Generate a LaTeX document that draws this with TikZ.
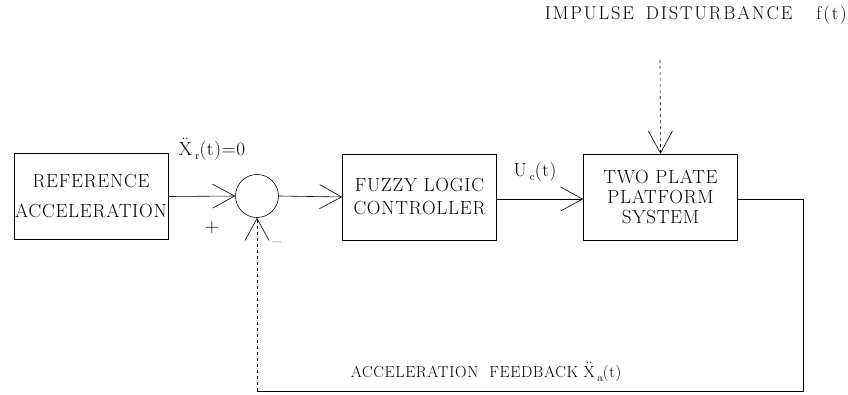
\documentclass[tikz,border=0pt]{standalone}
\usepackage{fontspec}
\setmainfont{Latin Modern Roman}[LetterSpace=4]
\usetikzlibrary{arrows.meta}
\newcommand{\ddX}{$\ddot{\mathrm{X}}$}
\newcommand{\lowsub}[1]{\,\raisebox{-4pt}{\fontsize{11}{12}\selectfont #1}}
\begin{document}
\begin{tikzpicture}[x=1pt,y=-1pt,
  blk/.style={draw,line width=0.6pt,minimum width=154pt,minimum height=86pt,align=center,inner sep=0pt,font=\fontsize{19}{#1}\selectfont},
  blk/.default=24,
  lbl/.style={inner sep=0pt,font=\fontsize{#1}{21}\selectfont},
  lbl/.default=19,
  sig/.style={line width=0.6pt,-{Straight Barb[length=22pt,width=24pt,line width=0.6pt]}},
  fb/.style={line width=0.6pt}]
\useasboundingbox (0,0) rectangle (848,394);
\node[blk=30] (ref) at (91,196.5) {REFERENCE\\ACCELERATION};
\node[draw,circle,line width=0.6pt,minimum size=43pt,inner sep=0pt] (sum) at (257,196) {};
\node[blk=23] (flc) at (419.5,197) {FUZZY LOGIC\\CONTROLLER};
\node[blk=20] (plant) at (660.5,197) {TWO PLATE\\PLATFORM\\SYSTEM};
\coordinate (dist) at (660,60);
\coordinate (c1) at (803,199);
\coordinate (c2) at (803,391);
\coordinate (c3) at (257,391);
\draw[sig] (ref.east) -- (sum.west);
\draw[sig] (sum.east) -- (flc.west);
\draw[sig] (flc.east |- 0,199) -- (plant.west |- 0,199);
\draw[sig,dashed] (dist) -- (plant.north);
\draw[fb] (plant.east |- c1) -- (c1) -- (c2) -- (c3);
\draw[sig,dashed] (c3) -- (sum.south);
\node[lbl] (xr) at (212,149) {\ddX\lowsub{r}(t)=0};
\node[lbl] (plus) at (212,228) {+};
\node[lbl] (minus) at (277,245) {--};
\node[lbl] (uc) at (535,172) {U\lowsub{c}(t)};
\node[lbl=18.5,anchor=east] (imp) at (847,15) {\addfontfeature{LetterSpace=10}IMPULSE\hspace{12pt}DISTURBANCE\hspace{24pt}f(t)};
\node[lbl=16] (acc) at (486,372) {ACCELERATION\ \ FEEDBACK \ddX\lowsub{a}(t)};
\end{tikzpicture}
\end{document}
